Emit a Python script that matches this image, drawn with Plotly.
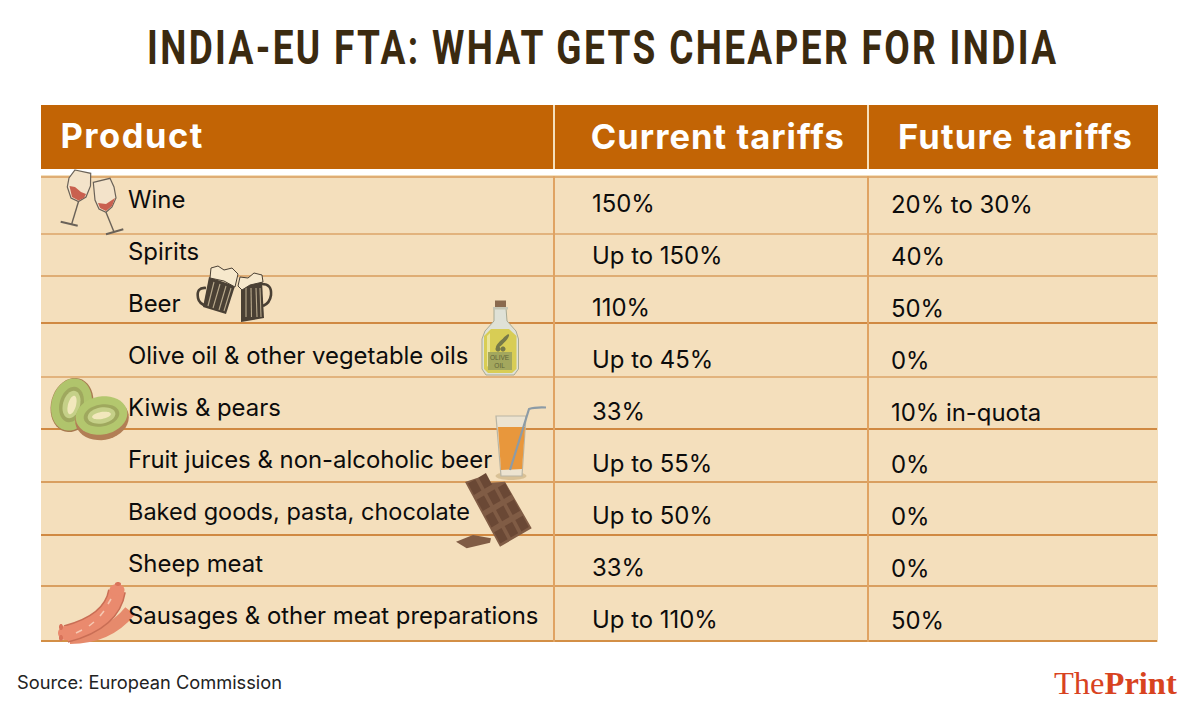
import math
import plotly.graph_objects as go

# ---- table content ----
TITLE = "INDIA-EU FTA: WHAT GETS CHEAPER FOR INDIA"
HEADERS = ["Product", "Current tariffs", "Future tariffs"]
PRODUCTS = ["Wine", "Spirits", "Beer", "Olive oil & other vegetable oils", "Kiwis & pears",
            "Fruit juices & non-alcoholic beer", "Baked goods, pasta, chocolate",
            "Sheep meat", "Sausages & other meat preparations"]
CURRENT = ["150%", "Up to 150%", "110%", "Up to 45%", "33%", "Up to 55%", "Up to 50%", "33%", "Up to 110%"]
FUTURE = ["20% to 30%", "40%", "50%", "0%", "10% in-quota", "0%", "0%", "0%", "50%"]
SOURCE = "Source: European Commission"

# ---- layout ----
W, H = 1200, 701
LINES_Y = [177, 234, 276, 323, 377, 429, 482, 535, 586, 641]
LINE_C = ["#d99c5c", "#dca468", "#d99c5c", "#c56d1a", "#dca468", "#c56d1a", "#d08a42", "#c56d1a", "#d08a42", "#c9741f"]
BODY_Y0 = [199.5, 251.5, 303.5, 355.5, 407.5, 459.5, 511.5, 563.5, 615.5]
BG, HEAD = "#f4dfbc", "#c26405"
BODY = 'Inter'
shapes, ann = [], []

def rect(x0, y0, x1, y1, fill):
    shapes.append(dict(type="rect", x0=x0, y0=y0, x1=x1, y1=y1, fillcolor=fill, line_width=0))
def line(x0, y0, x1, y1, c, w=1.5):
    shapes.append(dict(type="line", x0=x0, y0=y0, x1=x1, y1=y1, line=dict(color=c, width=w)))
def poly(pts, fill=None, lc=None, lw=0, close=True):
    d = "M " + " L ".join(f"{x:.1f},{y:.1f}" for x, y in pts) + (" Z" if close else "")
    shapes.append(dict(type="path", path=d, fillcolor=fill if fill else "rgba(0,0,0,0)",
                       line=dict(color=lc if lc else "rgba(0,0,0,0)", width=lw)))
def curve(d, c, w):
    shapes.append(dict(type="path", path=d, fillcolor="rgba(0,0,0,0)", line=dict(color=c, width=w)))
def ell(cx, cy, rx, ry, rot=0, fill=None, lc=None, lw=0):
    a = math.radians(rot)
    pts = []
    for i in range(40):
        t = 2 * math.pi * i / 40
        x, y = rx * math.cos(t), ry * math.sin(t)
        pts.append((cx + x * math.cos(a) - y * math.sin(a), cy + x * math.sin(a) + y * math.cos(a)))
    poly(pts, fill, lc, lw)
def text(x, y, s, size, color="#0c0c0c", anchor="left", font=BODY, weight=400):
    ann.append(dict(x=x, y=y, text=s, xanchor=anchor, yanchor="middle", showarrow=False,
                    font=dict(family=font, size=size, color=color, weight=weight)))

# table frame
rect(41, 105, 1158, 169, HEAD)
rect(41, 175, 1158, 642, BG)
for y, c in zip(LINES_Y, LINE_C):
    line(41, y, 1157, y, c, 1.6)
for x in (554, 868):
    line(x, 105, x, 169, "#f5dfbb", 2)
    line(x, 176, x, 642, "#e0a362", 2)

# --- wine glasses ---
G = "#6a6258"
poly([(75, 170), (90.7, 173.3), (90.5, 186), (86, 197), (78.5, 201.5), (71, 198), (67.3, 187), (69, 178)], "#f3e3ca", G, 1.2)
poly([(69.5, 186), (75, 187), (81, 192), (86, 194), (84, 198), (78.5, 200.5), (72, 197)], "#c9604f")
line(78.5, 201.5, 71.7, 224, G, 1.4)
line(60.7, 221.7, 77.7, 225.7, G, 2)
poly([(93.3, 182.3), (110, 178.3), (114, 187), (116, 198), (112, 207), (106, 212.3), (99, 209), (95, 200)], "#f3e3ca", G, 1.2)
poly([(98, 203), (106, 204), (115, 198), (112, 206), (106, 211), (100, 208)], "#c9604f")
line(106, 212.3, 114, 232, G, 1.4)
line(106, 234.3, 123.3, 229.3, G, 2)

# --- beer mugs ---
D = "#4a4034"
curve("M 206,288 Q 196,287 198,298 Q 199,304 207,306", D, 2.6)
poly([(209, 277), (235, 286), (226, 314), (203, 307)], D)
for a, b in [((214, 282), (208, 306)), ((220, 284), (213, 308)), ((226, 286), (219, 310)), ((231, 288), (224, 311))]:
    line(a[0], a[1], b[0], b[1], "#b9a98c", 1.1)
poly([(210, 278), (211, 268), (218, 266), (224, 270), (232, 268), (238, 274), (235, 287), (224, 281)], "#f6e8cc", D, 1)
curve("M 262,284 Q 272,284 271,295 Q 270,303 263,306", D, 2.6)
poly([(241, 285), (262, 281), (264, 318), (241, 322)], D)
for x0, x1 in [(246, 246), (251, 251.5), (256, 257), (260, 261)]:
    line(x0, 288, x1, 317, "#b9a98c", 1.1)
poly([(238, 286), (240, 277), (248, 278), (254, 273), (262, 275), (263, 282), (250, 285), (242, 290)], "#f6e8cc", D, 1)

# --- olive oil bottle ---
poly([(494, 308), (506, 308), (507, 321), (516, 331), (518.5, 339), (518.5, 369), (514, 375), (486, 375), (482, 369), (482, 339), (485, 331), (494, 321)],
     "#dfe1d6", "#a8a992", 1)
poly([(484, 336), (491, 329), (509, 329), (516.5, 336), (516.5, 369), (512, 373), (488, 373), (484, 369)], "#d8cd55")
poly([(487, 336), (490, 333), (490, 368), (487, 366)], "#ebe59a")
rect(495, 300.5, 506, 307.5, "#8a6a4e")
rect(493, 307, 508, 309.5, "#c5c6b5")
ell(501, 343, 7, 2, -45, "#76794a")
ell(505, 339, 6, 1.8, -50, "#76794a")
ell(498, 349, 2.5, 2.5, 0, "#76794a")
ell(503, 349, 2.5, 2.5, 0, "#76794a")
rect(488, 352, 512, 370, "#a3a75e")
ann.append(dict(x=500, y=361, text="OLIVE<br>OIL", showarrow=False, xanchor="center", yanchor="middle",
                font=dict(family="Liberation Sans", size=6.5, color="#5f6438")))

# --- juice glass ---
ell(511, 476, 15.5, 4, 0, "#d9c196")
poly([(496, 416), (526, 416), (522, 476), (501, 476)], "#ece3d0", "#b9b5a4", 1.2)
poly([(498, 427), (525, 427), (522, 469), (501, 470)], "#e8973c")
curve("M 510,470 L 529,409 Q 535,407 546,407.5", "#8c9ba6", 2.2)

# --- chocolate ---
C1, C2 = "#805c45", "#6a4835"
poly([(465, 482), (480, 477), (488, 483), (505, 481.7), (531.7, 528.3), (500, 546.7)], C1)
ux, uy = 35 / 4, 65 / 4
vx, vy = 31.7 / 3, -18.4 / 3
for r in range(4):
    for c in range(3):
        if r == 0 and c == 2:
            continue
        o = (465 + ux * r + vx * c, 482 + uy * r + vy * c)
        a, b = (0.15, 0.85), (0.15, 0.85)
        poly([(o[0] + ux * i + vx * j, o[1] + uy * i + vy * j)
              for i, j in [(a[0], b[0]), (a[1], b[0]), (a[1], b[1]), (a[0], b[1])]], C2)
poly([(456, 541.7), (473, 535), (491, 538.3), (490, 542.7), (466.7, 548.3)], C1)

# --- kiwis ---
ell(72, 405, 21, 27.5, 15, "#a87a50")
ell(71.5, 404.5, 20, 26.5, 15, "#b0c46c")
ell(71.5, 404.5, 12, 18, 15, "#9fa85e")
ell(71.5, 404.5, 8.5, 14, 15, "#c5d088")
ell(72, 405, 4, 9.5, 15, "#f2e8bc")
ell(102, 419, 27, 21, -10, "#b27e55")
ell(101.5, 415.5, 26, 19, -10, "#b3c76e")
ell(101.5, 415.5, 18, 11, -10, "#9fa85e")
ell(101.5, 415.5, 14, 8, -10, "#c5d088")
ell(101.5, 415.5, 9.5, 3.5, -10, "#f2e8bc")

# --- sausages ---
curve("M 130,611 Q 108,638 70,638", "#e68a6c", 12)
curve("M 117,591 Q 112,622 66,634", "#c96e55", 18)
curve("M 117,591 Q 112,622 66,634", "#ea8a6e", 15)
ell(117, 590, 7.5, 6, 0, "#ea8a6e")
ell(66, 633, 8, 7, 0, "#ea8a6e")
ell(118, 584, 3, 2, 0, "#d9735a")
ell(61, 627, 2, 3, 0, "#d9735a")
ell(61, 638, 2, 3, 0, "#d9735a")
curve("M 111,599 L 108,604 M 104,611 L 100,616 M 94,622 L 89,626 M 82,630 L 76,633", "#f6c8b2", 1.6)

# --- text ---
text(W / 2 + 1.5, 47, TITLE, 37, "#3b2a10", "center", "Roboto", 700)
text(63, 135, HEADERS[0], 34.5, "#ffffff", "left", BODY, 700)
text(596, 136, HEADERS[1], 34.5, "#ffffff", "left", BODY, 700)
text(904, 136, HEADERS[2], 34.5, "#ffffff", "left", BODY, 700)
for i, y in enumerate(BODY_Y0):
    size = 23.5 if PRODUCTS[i].startswith("Baked") else 23.9
    text(125.5, y, PRODUCTS[i], size)
    text(589.5, y + 4, CURRENT[i], 23.9)
    text(888.5, y + 5, FUTURE[i], 23.9)
text(15, 682, SOURCE, 18.25, "#222222")
ann.append(dict(x=1179, y=683, text="The<b>Print</b>", xanchor="right", yanchor="middle", showarrow=False,
                font=dict(family="Liberation Serif", size=32.5, color="#d8431f")))

fig = go.Figure()
fig.update_layout(width=W, height=H, margin=dict(l=0, r=0, t=0, b=0), autosize=False,
                  paper_bgcolor="#ffffff", plot_bgcolor="#ffffff", showlegend=False,
                  xaxis=dict(range=[0, W], visible=False, fixedrange=True),
                  yaxis=dict(range=[H, 0], visible=False, fixedrange=True),
                  shapes=shapes, annotations=ann)

# page margin off; tracking of the display texts, title stretched upright about its own centre
POST = """
document.body.style.margin = '0';
document.querySelectorAll('.annotation-text').forEach(function (t) {
  var s = t.textContent;
  if (s.indexOf('INDIA-EU') === 0) {
    t.setAttribute('textLength', '909');
    t.setAttribute('lengthAdjust', 'spacing');
    var b = t.getBBox(), cy = b.y + b.height / 2;
    t.setAttribute('transform', 'translate(0,' + cy + ') scale(1,1.3) translate(0,' + (-cy) + ')');
  }
  var L = {'Product': 142, 'Current tariffs': 253, 'Future tariffs': 234};
  if (L[s]) {
    t.setAttribute('textLength', String(L[s]));
    t.setAttribute('lengthAdjust', 'spacing');
  }
});
"""
fig.write_html("out.html", config=dict(displayModeBar=False), post_script=POST)
